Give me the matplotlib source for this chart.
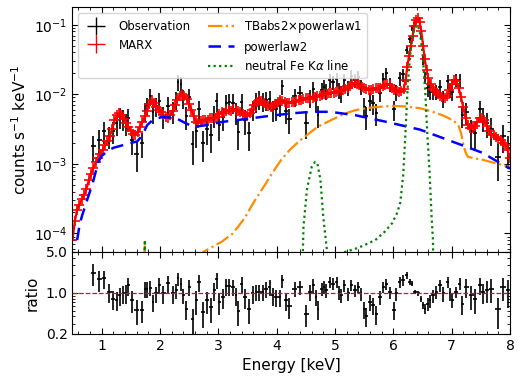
import matplotlib
matplotlib.use('Agg')
import matplotlib.pyplot as plt
from matplotlib.lines import Line2D
from matplotlib.ticker import FixedLocator, FixedFormatter, LogLocator, NullFormatter, MultipleLocator
import numpy as np

# ---- data ----
# MARX simulated spectrum (keV, counts/s/keV)
marx_e = [0.50, 0.54, 0.58, 0.62, 0.66, 0.70, 0.74, 0.78, 0.82, 0.86, 0.90, 0.94, 0.98,
          1.02, 1.06, 1.10, 1.14, 1.18, 1.22, 1.26, 1.30, 1.34, 1.38, 1.42, 1.46, 1.50,
          1.54, 1.58, 1.62, 1.66, 1.70, 1.74, 1.78, 1.82, 1.86, 1.90, 1.94, 1.98, 2.02,
          2.06, 2.10, 2.14, 2.18, 2.22, 2.26, 2.30, 2.34, 2.38, 2.42, 2.46, 2.50, 2.54,
          2.58, 2.62, 2.66, 2.70, 2.74, 2.78, 2.82, 2.86, 2.90, 2.94, 2.98, 3.02, 3.06,
          3.10, 3.14, 3.18, 3.22, 3.26, 3.30, 3.34, 3.38, 3.42, 3.46, 3.50, 3.54, 3.58,
          3.62, 3.66, 3.70, 3.74, 3.78, 3.82, 3.86, 3.90, 3.94, 3.98, 4.02, 4.06, 4.10,
          4.14, 4.18, 4.22, 4.26, 4.30, 4.34, 4.38, 4.42, 4.46, 4.50, 4.54, 4.58, 4.62,
          4.66, 4.70, 4.74, 4.78, 4.82, 4.86, 4.90, 4.94, 4.98, 5.02, 5.06, 5.10, 5.14,
          5.18, 5.22, 5.26, 5.30, 5.34, 5.38, 5.42, 5.46, 5.50, 5.54, 5.58, 5.62, 5.66,
          5.70, 5.74, 5.78, 5.82, 5.86, 5.90, 5.94, 5.98, 6.02, 6.06, 6.10, 6.14, 6.18,
          6.21, 6.24, 6.27, 6.30, 6.33, 6.36, 6.39, 6.42, 6.45, 6.48, 6.51, 6.54, 6.57,
          6.60, 6.64, 6.68, 6.72, 6.76, 6.80, 6.84, 6.88, 6.92, 6.96, 7.00, 7.04, 7.08,
          7.12, 7.16, 7.20, 7.24, 7.28, 7.32, 7.36, 7.40, 7.44, 7.48, 7.52, 7.56, 7.60,
          7.64, 7.68, 7.72, 7.76, 7.80, 7.84, 7.88, 7.92, 7.96, 8.00]
marx_rate = [8.0e-5, 1.5e-4, 2.2e-4, 2.6e-4, 3.1e-4, 3.6e-4, 4.4e-4, 5.8e-4, 7.2e-4, 8.8e-4,
             1.05e-3, 1.2e-3, 1.4e-3, 1.6e-3, 1.85e-3, 2.1e-3, 2.5e-3, 3.2e-3, 4.2e-3, 5.0e-3,
             5.4e-3, 5.0e-3, 4.4e-3, 3.9e-3, 3.4e-3, 3.0e-3, 2.7e-3, 2.6e-3, 2.9e-3, 3.4e-3,
             4.0e-3, 4.8e-3, 5.8e-3, 7.2e-3, 8.3e-3, 7.4e-3, 6.6e-3, 6.0e-3, 5.5e-3, 5.0e-3,
             4.7e-3, 4.6e-3, 5.0e-3, 5.8e-3, 7.0e-3, 8.3e-3, 9.4e-3, 1.0e-2, 9.6e-3, 8.5e-3,
             7.2e-3, 6.0e-3, 4.8e-3, 4.0e-3, 3.9e-3, 4.1e-3, 4.3e-3, 4.2e-3, 4.3e-3, 4.5e-3,
             4.6e-3, 4.5e-3, 4.7e-3, 5.2e-3, 5.6e-3, 5.4e-3, 5.8e-3, 6.0e-3, 5.8e-3, 6.1e-3,
             6.0e-3, 5.7e-3, 5.5e-3, 5.2e-3, 5.0e-3, 4.9e-3, 5.3e-3, 6.0e-3, 7.0e-3, 7.8e-3,
             8.3e-3, 8.0e-3, 7.4e-3, 7.0e-3, 6.8e-3, 6.6e-3, 6.6e-3, 7.2e-3, 7.8e-3, 8.2e-3,
             8.0e-3, 7.8e-3, 7.6e-3, 7.5e-3, 7.7e-3, 7.8e-3, 8.0e-3, 8.2e-3, 8.4e-3, 8.6e-3,
             8.8e-3, 8.9e-3, 8.6e-3, 8.8e-3, 9.2e-3, 9.5e-3, 9.6e-3, 9.9e-3, 1.0e-2, 1.02e-2,
             1.04e-2, 1.05e-2, 1.04e-2, 1.08e-2, 1.1e-2, 1.12e-2, 1.15e-2, 1.2e-2, 1.25e-2, 1.32e-2,
             1.4e-2, 1.45e-2, 1.42e-2, 1.35e-2, 1.28e-2, 1.22e-2, 1.18e-2, 1.15e-2, 1.17e-2, 1.2e-2,
             1.22e-2, 1.22e-2, 1.25e-2, 1.3e-2, 1.35e-2, 1.4e-2, 1.35e-2, 1.25e-2, 1.15e-2, 1.1e-2,
             1.08e-2, 1.1e-2, 1.2e-2, 1.6e-2, 2.5e-2, 3.6e-2, 5.0e-2, 7.0e-2, 9.5e-2, 0.118,
             0.125, 0.11, 8.0e-2, 5.0e-2, 3.2e-2, 2.2e-2, 1.7e-2, 1.4e-2, 1.2e-2, 1.1e-2,
             1.02e-2, 9.5e-3, 9.0e-3, 8.9e-3, 9.5e-3, 1.15e-2, 1.4e-2, 1.6e-2, 1.55e-2, 1.25e-2,
             9.0e-3, 6.5e-3, 4.5e-3, 3.6e-3, 3.3e-3, 3.3e-3, 3.5e-3, 4.0e-3, 4.5e-3, 4.6e-3,
             4.2e-3, 3.5e-3, 3.0e-3, 2.7e-3, 2.6e-3, 2.4e-3, 2.3e-3, 2.2e-3, 2.0e-3, 1.85e-3,
             1.6e-3, 1.2e-3]

# observed spectrum: bin centre, rate, fractional error, data/MARX ratio
obs_e = [0.86, 0.96, 1.04, 1.13, 1.20, 1.26, 1.31, 1.37, 1.42, 1.46, 1.52, 1.60, 1.69,
         1.74, 1.78, 1.83, 1.88, 1.93, 1.99, 2.06, 2.14, 2.22, 2.28, 2.31, 2.36, 2.40,
         2.45, 2.50, 2.56, 2.62, 2.67, 2.74, 2.80, 2.87, 2.93, 2.97, 3.02, 3.08, 3.14,
         3.19, 3.25, 3.30, 3.34, 3.40, 3.46, 3.53, 3.59, 3.65, 3.70, 3.76, 3.82, 3.88,
         3.93, 3.99, 4.05, 4.10, 4.16, 4.22, 4.31, 4.40, 4.51, 4.57, 4.63, 4.68, 4.71,
         4.77, 4.81, 4.85, 4.91, 4.97, 5.03, 5.07, 5.11, 5.16, 5.23, 5.28, 5.34, 5.40,
         5.44, 5.50, 5.54, 5.60, 5.65, 5.71, 5.77, 5.83, 5.88, 5.94, 6.01, 6.05, 6.11,
         6.17, 6.23, 6.28, 6.32, 6.37, 6.43, 6.47, 6.51, 6.54, 6.59, 6.63, 6.68, 6.74,
         6.80, 6.86, 6.93, 6.97, 7.01, 7.08, 7.14, 7.18, 7.25, 7.34, 7.40, 7.48, 7.54,
         7.61, 7.68, 7.79, 7.88, 7.97]
obs_rate = [1.8e-3, 2.2e-3, 3.0e-3, 2.5e-3, 3.0e-3, 3.85e-3, 4.8e-3, 4.5e-3, 3.9e-3, 4.6e-3,
            2.2e-3, 1.4e-3, 2.0e-3, 5.7e-3, 6.9e-3, 9.3e-3, 5.5e-3, 6.7e-3, 8.0e-3, 4.9e-3,
            6.9e-3, 5.7e-3, 8.4e-3, 1.5e-2, 1.4e-2, 8.9e-3, 4.8e-3, 9.1e-3, 1.95e-3, 3.0e-3,
            6.1e-3, 2.0e-3, 3.2e-3, 2.6e-3, 5.0e-3, 7.9e-3, 3.6e-3, 4.7e-3, 7.5e-3, 7.7e-3,
            7.6e-3, 5.5e-3, 2.85e-3, 7.8e-3, 4.25e-3, 2.8e-3, 6.1e-3, 7.9e-3, 8.6e-3, 8.0e-3,
            8.3e-3, 8.5e-3, 6.0e-3, 6.2e-3, 6.9e-3, 1.3e-2, 5.8e-3, 4.4e-3, 9.3e-3, 1.05e-2,
            3.9e-3, 9.0e-3, 1.2e-2, 7.9e-3, 5.1e-3, 1.17e-2, 1.27e-2, 1.13e-2, 1.6e-2, 1.5e-2,
            1.67e-2, 1.15e-2, 1.02e-2, 1.6e-2, 1.24e-2, 1.85e-2, 1.6e-2, 1.76e-2, 1.29e-2, 6.6e-3,
            4.8e-3, 8.1e-3, 7.4e-3, 5.4e-3, 1.05e-2, 1.66e-2, 2.0e-2, 1.4e-2, 6.1e-3, 1.09e-2,
            1.69e-2, 1.93e-2, 4.4e-2, 6.2e-2, 9.1e-2, 0.107, 0.12, 7.2e-2, 3.1e-2, 1.73e-2,
            1.22e-2, 1.09e-2, 1.09e-2, 1.1e-2, 1.29e-2, 8.8e-3, 1.55e-2, 1.18e-2, 1.09e-2, 1.61e-2,
            1.6e-2, 5.1e-3, 5.5e-3, 3.0e-3, 2.8e-3, 6.1e-3, 4.6e-3, 3.9e-3, 3.2e-3, 1.25e-3,
            2.5e-3, 1.7e-3]
obs_frac_err = [0.4, 0.4, 0.35, 0.35, 0.35, 0.35, 0.33, 0.33, 0.35, 0.35, 0.4, 0.45, 0.4,
                0.3, 0.3, 0.27, 0.33, 0.3, 0.3, 0.35, 0.33, 0.35, 0.3, 0.25, 0.25, 0.3,
                0.37, 0.3, 0.5, 0.43, 0.33, 0.47, 0.41, 0.45, 0.35, 0.3, 0.4, 0.37, 0.31,
                0.31, 0.31, 0.35, 0.45, 0.31, 0.38, 0.45, 0.33, 0.31, 0.3, 0.31, 0.31, 0.3,
                0.33, 0.33, 0.32, 0.25, 0.35, 0.38, 0.29, 0.27, 0.41, 0.29, 0.26, 0.3, 0.35,
                0.26, 0.25, 0.26, 0.23, 0.23, 0.23, 0.26, 0.27, 0.23, 0.25, 0.22, 0.23, 0.22,
                0.25, 0.32, 0.37, 0.3, 0.31, 0.35, 0.26, 0.22, 0.21, 0.24, 0.33, 0.26, 0.22,
                0.21, 0.14, 0.11, 0.1, 0.09, 0.09, 0.11, 0.15, 0.2, 0.24, 0.25, 0.25, 0.25,
                0.24, 0.27, 0.22, 0.25, 0.26, 0.22, 0.22, 0.35, 0.35, 0.43, 0.45, 0.33, 0.37,
                0.4, 0.43, 0.55, 0.43, 0.5]
obs_ratio = [2.2, 1.70, 1.77, 1.04, 0.80, 0.77, 0.91, 0.98, 1.00, 1.36, 0.77, 0.52, 0.52,
             1.19, 1.19, 1.24, 0.70, 0.98, 1.36, 0.98, 1.49, 0.98, 1.11, 1.77, 1.45, 0.91,
             0.54, 1.27, 0.36, 0.75, 1.55, 0.47, 0.75, 0.57, 1.11, 1.70, 0.70, 0.85, 1.30,
             1.30, 1.27, 0.91, 0.50, 1.45, 0.85, 0.54, 0.98, 1.04, 1.04, 1.04, 1.19, 1.27,
             0.91, 0.85, 0.85, 1.65, 0.75, 0.59, 1.19, 1.27, 0.44, 1.04, 1.36, 0.85, 0.54,
             1.19, 1.27, 1.11, 1.55, 1.45, 1.55, 1.04, 0.91, 1.36, 0.98, 1.36, 1.11, 1.27,
             0.98, 0.54, 0.41, 0.70, 0.62, 0.44, 0.85, 1.27, 1.45, 1.04, 0.52, 0.98, 1.55,
             1.65, 2.0, 1.55, 1.45, 1.04, 0.98, 0.80, 0.62, 0.54, 0.66, 0.75, 0.91, 1.04,
             1.36, 0.98, 1.55, 0.98, 0.75, 1.04, 1.45, 0.66, 1.27, 0.91, 0.80, 1.36, 1.04,
             1.14, 1.19, 0.54, 1.27, 1.11]

# model components
tbabs_e = [1.70, 1.74, 1.78, 2.60, 2.74, 2.90, 3.06, 3.25, 3.37, 3.46, 3.56, 3.66, 3.80,
           3.94, 4.08, 4.23, 4.38, 4.52, 4.70, 4.92, 5.17, 5.35, 5.52, 5.75, 5.98, 6.20,
           6.46, 6.65, 6.84, 6.96, 7.06, 7.12, 7.16, 7.20, 7.24, 7.28, 7.40, 7.52, 7.75, 8.00]
tbabs_rate = [1e-6, 6.5e-5, 1e-6, 3.5e-5, 5.4e-5, 6.4e-5, 7.6e-5, 1.0e-4, 1.35e-4, 1.7e-4,
              2.4e-4, 3.3e-4, 5.0e-4, 7.7e-4, 1.15e-3, 1.6e-3, 2.1e-3, 2.6e-3, 3.4e-3, 4.2e-3,
              5.3e-3, 5.9e-3, 6.3e-3, 6.6e-3, 6.8e-3, 6.7e-3, 6.3e-3, 5.7e-3, 5.0e-3, 4.5e-3,
              4.0e-3, 3.5e-3, 2.8e-3, 1.9e-3, 1.45e-3, 1.26e-3, 1.2e-3, 1.15e-3, 1.02e-3, 9.0e-4]
pl2_e = [0.58, 0.62, 0.66, 0.75, 0.85, 0.94, 1.00, 1.09, 1.20, 1.31, 1.45, 1.61, 1.70, 1.78,
         1.88, 2.03, 2.26, 2.40, 2.57, 2.80, 3.06, 3.46, 3.80, 4.23, 4.60, 4.92, 5.35, 5.89,
         6.46, 6.94, 7.52, 8.00]
pl2_rate = [8.0e-5, 1.3e-4, 1.75e-4, 3.0e-4, 5.4e-4, 1.05e-3, 1.3e-3, 1.5e-3, 1.7e-3, 1.8e-3,
            1.95e-3, 2.1e-3, 2.6e-3, 3.6e-3, 4.3e-3, 4.7e-3, 4.6e-3, 4.0e-3, 3.4e-3, 3.6e-3,
            4.0e-3, 4.4e-3, 4.8e-3, 5.3e-3, 5.6e-3, 5.6e-3, 5.0e-3, 4.0e-3, 3.1e-3, 2.2e-3,
            1.45e-3, 8.5e-4]
feka_e = [1.70, 1.74, 1.78, 4.40, 4.46, 4.52, 4.60, 4.66, 4.70, 4.75, 4.80, 4.87, 4.93,
          5.10, 5.17, 5.40, 5.69, 5.85, 5.98, 6.07, 6.12, 6.17, 6.21, 6.25, 6.30, 6.35,
          6.40, 6.45, 6.50, 6.55, 6.58, 6.62, 6.66, 6.68, 6.70]
feka_rate = [1e-6, 8.0e-5, 1e-6, 1e-6, 1.26e-4, 4.3e-4, 9.0e-4, 1.07e-3, 1.0e-3, 5.9e-4,
             1.7e-4, 5.0e-5, 1e-6, 1e-6, 5.4e-5, 6.2e-5, 8.0e-5, 1.05e-4, 1.4e-4, 2.0e-4,
             2.8e-4, 7.0e-4, 3.0e-3, 1.5e-2, 4.5e-2, 8.0e-2, 0.1, 8.5e-2, 4.0e-2, 1.0e-2,
             3.0e-3, 8.0e-4, 1.5e-4, 8.0e-5, 1e-6]

# ---- figure ----
obs_e = np.array(obs_e)
obs_rate = np.array(obs_rate)
obs_ratio = np.array(obs_ratio)
frac = np.array(obs_frac_err)
half_bin = np.gradient(obs_e) / 2

fig = plt.figure(figsize=(5.23, 3.85), dpi=100)
ax = fig.add_axes([0.1386, 0.3455, 0.8365, 0.6363])
axr = fig.add_axes([0.1386, 0.1325, 0.8365, 0.2130], sharex=ax)

ax.errorbar(obs_e, obs_rate, xerr=half_bin, yerr=obs_rate * frac,
            fmt='none', ecolor='black', elinewidth=1.2)
ax.plot(marx_e, marx_rate, color='red', lw=1.6, marker='+', ms=7, mew=1.2)
ax.plot(tbabs_e, tbabs_rate, color='darkorange', lw=1.6, ls='-.')
ax.plot(pl2_e, pl2_rate, color='blue', lw=1.8, ls=(0, (5, 3)))
ax.plot(feka_e, feka_rate, color='green', lw=1.6, ls=(0, (1, 1.5)))

ax.set_yscale('log')
ax.set_ylim(5.4e-5, 0.18)
ax.set_xlim(0.5, 8)
ax.set_ylabel(r'counts s$^{-1}$ keV$^{-1}$', fontsize=11)

handles = [
    Line2D([], [], color='black', marker='+', ms=13, mew=1.0, ls='none'),
    Line2D([], [], color='red', marker='+', ms=13, mew=1.0, ls='none'),
    Line2D([], [], ls='none'),
    Line2D([], [], color='darkorange', lw=1.6, ls='-.'),
    Line2D([], [], color='blue', lw=1.8, ls=(0, (5, 3))),
    Line2D([], [], color='green', lw=1.6, ls=(0, (1, 1.5))),
]
labels = ['Observation', 'MARX', '', r'TBabs2$\times$powerlaw1', 'powerlaw2',
          r'neutral Fe K$\alpha$ line']
ax.legend(handles, labels, ncol=2, loc='upper left', fontsize=8.5,
          handlelength=2.2, columnspacing=1.5, borderaxespad=0.5)

axr.errorbar(obs_e, obs_ratio, xerr=half_bin, yerr=obs_ratio * frac,
             fmt='none', ecolor='black', elinewidth=1.2)
axr.axhline(1.0, color='red', ls='--', lw=0.9)
axr.set_yscale('log')
axr.set_ylim(0.2, 5.0)
axr.yaxis.set_major_locator(FixedLocator([0.2, 1.0, 5.0]))
axr.yaxis.set_major_formatter(FixedFormatter(['0.2', '1.0', '5.0']))
axr.yaxis.set_minor_locator(LogLocator(base=10, subs=np.arange(2, 10)))
axr.yaxis.set_minor_formatter(NullFormatter())
axr.set_ylabel('ratio', fontsize=11)
axr.set_xlabel('Energy [keV]', fontsize=11)
axr.xaxis.set_major_locator(MultipleLocator(1))
axr.xaxis.set_minor_locator(MultipleLocator(0.2))

for a in (ax, axr):
    a.tick_params(which='both', direction='in', top=True, right=True, labelsize=10)
    a.tick_params(which='major', length=4)
    a.tick_params(which='minor', length=2)
ax.tick_params(labelbottom=False)

fig.align_ylabels([ax, axr])
fig.savefig('out.png', dpi=100)
